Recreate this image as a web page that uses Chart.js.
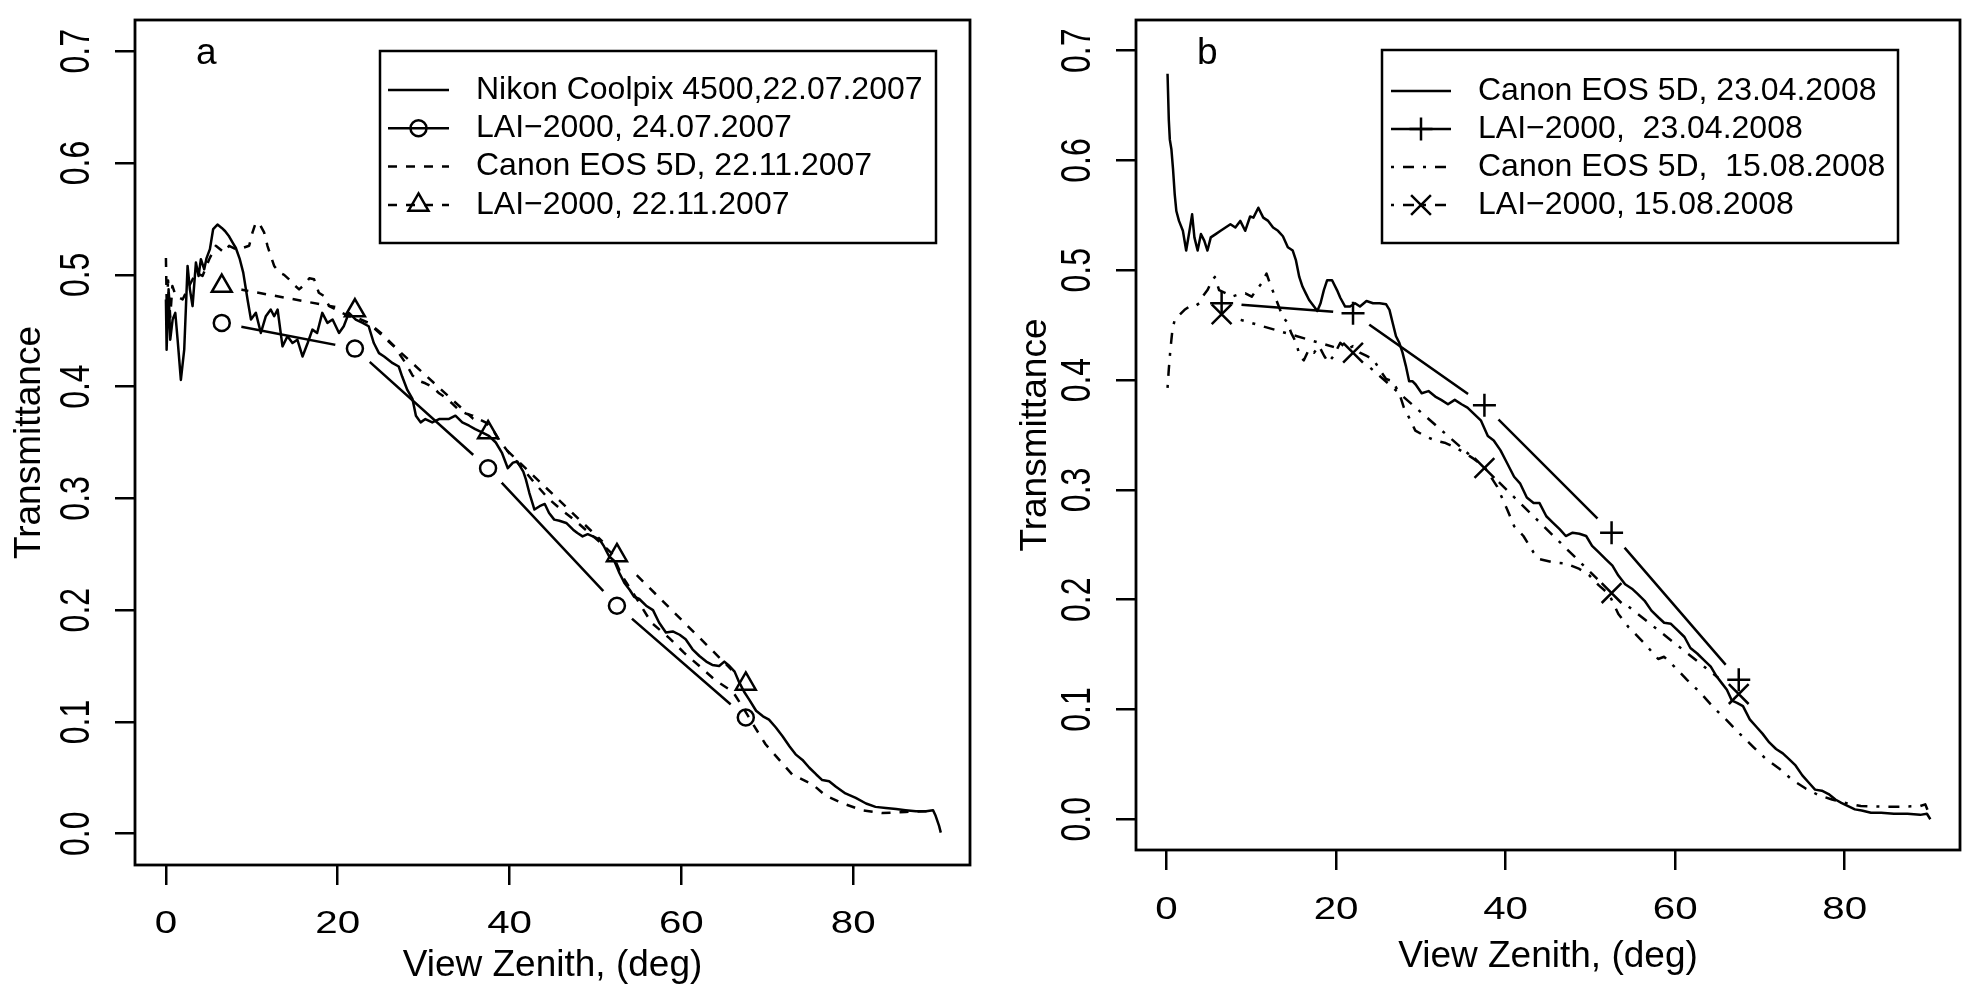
<!DOCTYPE html>
<html>
<head>
<meta charset="utf-8">
<title>Transmittance vs view zenith</title>
<script src="https://cdn.jsdelivr.net/npm/chart.js@4.4.0/dist/chart.umd.min.js"></script>
<style>
  html, body { margin: 0; padding: 0; background: #fff; }
  #wrap { position: relative; width: 1980px; height: 991px; }
  canvas { position: absolute; top: 0; }
  #chartA { left: 0; }
  #chartB { left: 990px; }
</style>
</head>
<body>
<div id="wrap">
  <canvas id="chartA" width="990" height="991"></canvas>
  <canvas id="chartB" width="990" height="991"></canvas>
</div>
<script>
// Axis ticks
const xTicks = [0, 20, 40, 60, 80];
const yTicks = [0, 0.1, 0.2, 0.3, 0.4, 0.5, 0.6, 0.7];

// LAI-2000 ring angles (both panels)
const laiAngles = [6.5, 22, 37.5, 52.5, 67.5];

// Panel a
const nikonAng = [0.0, 0.08, 0.31, 0.5, 0.78, 1.09, 1.36, 1.74, 2.13, 2.52, 2.79, 3.1, 3.49, 3.8, 4.07, 4.46, 4.73, 5.12, 5.5, 6.0,
  6.5, 6.9, 7.3, 7.75, 8.14, 8.6, 9.0, 9.5, 9.9, 10.47, 11.05, 11.63, 12.2, 12.6, 13.0, 13.57, 14.15, 14.73, 15.3, 15.9,
  16.5, 17.05, 17.6, 18.2, 18.8, 19.4, 20.15, 20.7, 21.3, 22.1, 22.9, 23.6, 24.2, 24.8, 25.4, 26.4, 27.1, 27.5, 28.1, 28.7,
  29.1, 29.65, 30.2, 31.0, 31.8, 32.9, 33.7, 34.5, 35.3, 36.0, 36.8, 37.6, 38.4, 39.1, 39.8, 40.4, 40.9, 41.6, 41.9, 42.3,
  42.9, 43.5, 44.1, 44.6, 45.2, 45.8, 46.6, 47.4, 47.9, 48.5, 49.1, 49.7, 50.5, 51.0, 51.6, 52.2, 52.8, 53.4, 54.0, 54.5,
  55.1, 55.9, 56.7, 57.4, 58.2, 59.0, 59.8, 60.5, 61.3, 62.1, 62.9, 63.6, 64.4, 65.0, 65.6, 66.2, 66.7, 67.3, 67.9, 68.7,
  69.5, 70.2, 71.0, 71.8, 72.6, 73.3, 74.1, 74.9, 75.7, 76.4, 77.2, 78.0, 79.1, 80.3, 81.5, 82.6, 83.8, 85.0, 86.1, 87.3,
  88.5, 89.3, 89.6, 90.0, 90.2];
const nikonT = [0.478, 0.433, 0.487, 0.442, 0.460, 0.466, 0.442, 0.406, 0.433, 0.508, 0.487, 0.472, 0.511, 0.499, 0.514, 0.505, 0.515, 0.523, 0.541, 0.545,
  0.542, 0.539, 0.535, 0.529, 0.524, 0.514, 0.502, 0.478, 0.460, 0.466, 0.448, 0.463, 0.469, 0.463, 0.469, 0.436, 0.445, 0.439, 0.442, 0.427,
  0.439, 0.451, 0.448, 0.466, 0.457, 0.460, 0.448, 0.454, 0.466, 0.460, 0.457, 0.454, 0.439, 0.430, 0.427, 0.421, 0.418, 0.409, 0.397, 0.389,
  0.374, 0.368, 0.371, 0.368, 0.371, 0.371, 0.374, 0.368, 0.365, 0.362, 0.359, 0.356, 0.350, 0.341, 0.327, 0.332, 0.333, 0.324, 0.317, 0.305,
  0.290, 0.293, 0.295, 0.287, 0.281, 0.280, 0.278, 0.272, 0.269, 0.266, 0.268, 0.266, 0.263, 0.257, 0.248, 0.244, 0.233, 0.224, 0.218, 0.212,
  0.210, 0.204, 0.200, 0.189, 0.180, 0.181, 0.178, 0.174, 0.165, 0.159, 0.154, 0.151, 0.150, 0.154, 0.150, 0.145, 0.136, 0.127, 0.120, 0.110,
  0.105, 0.102, 0.095, 0.087, 0.078, 0.071, 0.066, 0.059, 0.053, 0.048, 0.047, 0.042, 0.036, 0.032, 0.027, 0.024, 0.023, 0.022, 0.021, 0.020,
  0.020, 0.021, 0.016, 0.007, 0.001];

const canonNovAng = [0.0, 0.1, 0.25, 0.5, 0.75, 1.16, 1.94, 2.71, 3.49, 4.26, 5.04, 5.81, 6.78, 7.36, 8.14, 8.91, 9.69, 10.08, 10.47, 10.93,
  11.43, 11.82, 12.2, 12.6, 13.2, 13.76, 14.34, 14.92, 15.5, 16.1, 16.7, 17.25, 17.8, 18.4, 19.0, 19.8, 20.5, 21.3, 22.1, 23.6,
  25.2, 26.6, 27.9, 28.7, 29.5, 30.2, 31.0, 31.8, 32.6, 33.3, 34.1, 34.9, 35.7, 36.4, 37.2, 38.0, 38.8, 40.0, 41.5, 43.0,
  44.5, 46.0, 47.5, 49.0, 50.5, 52.0, 53.0, 54.65, 56.5, 58.6, 60.3, 62.1, 64.0, 66.0, 67.0, 68.5, 69.8, 71.4, 72.9, 75.3,
  76.8, 78.8, 81.1, 83.4, 86.1, 88.5, 89.5];
const canonNovT = [0.515, 0.470, 0.495, 0.462, 0.490, 0.481, 0.478, 0.490, 0.502, 0.499, 0.514, 0.526, 0.520, 0.526, 0.523, 0.524, 0.526, 0.538, 0.547, 0.545,
  0.538, 0.526, 0.517, 0.508, 0.502, 0.500, 0.496, 0.491, 0.487, 0.491, 0.497, 0.496, 0.484, 0.481, 0.472, 0.469, 0.466, 0.463, 0.462, 0.457,
  0.447, 0.436, 0.421, 0.410, 0.405, 0.403, 0.400, 0.394, 0.390, 0.385, 0.379, 0.376, 0.374, 0.371, 0.368, 0.362, 0.352, 0.340, 0.327, 0.313,
  0.300, 0.290, 0.281, 0.271, 0.261, 0.250, 0.232, 0.212, 0.189, 0.175, 0.162, 0.150, 0.137, 0.127, 0.115, 0.096, 0.080, 0.066, 0.053, 0.044,
  0.034, 0.027, 0.021, 0.0185, 0.0195, 0.020, 0.020];

const laiJulT = [0.457, 0.434, 0.327, 0.204, 0.104];
const laiNovT = [0.490, 0.468, 0.359, 0.249, 0.134];

// Panel b
const canonAprAng = [0.12, 0.27, 0.39, 0.58, 0.77, 0.97, 1.16, 1.47, 1.93, 2.32, 2.71, 3.02, 3.29, 3.67, 4.06, 4.45, 4.83, 5.22, 5.8, 6.38,
  6.96, 7.54, 8.12, 8.7, 9.28, 9.86, 10.25, 10.83, 11.41, 11.99, 12.57, 13.15, 13.73, 14.31, 14.89, 15.27, 15.66, 16.05, 16.43, 16.82,
  17.4, 17.79, 18.17, 18.56, 18.95, 19.53, 20.11, 20.5, 21.07, 21.65, 22.24, 22.82, 23.59, 24.36, 25.14, 25.91, 26.3, 26.68, 27.07, 27.46,
  27.84, 28.23, 28.62, 29.0, 29.39, 30.1, 30.9, 31.7, 32.4, 33.2, 34.0, 34.8, 35.5, 36.3, 37.1, 37.9, 38.6, 39.4, 40.2, 41.0,
  41.7, 42.5, 43.3, 44.0, 44.8, 45.6, 46.4, 47.1, 47.9, 48.7, 49.5, 50.2, 51.0, 51.8, 52.6, 53.3, 54.1, 54.9, 55.6, 56.4,
  57.2, 58.0, 58.7, 59.5, 60.3, 61.1, 61.8, 62.6, 63.4, 64.2, 64.9, 65.5, 66.1, 66.7, 67.3, 68.0, 68.8, 69.6, 70.3, 71.1,
  71.9, 72.7, 73.4, 74.2, 75.0, 75.8, 76.5, 77.3, 78.1, 78.9, 79.6, 80.4, 81.2, 82.0, 83.1, 84.3, 85.8, 87.4, 88.9, 89.7, 90.1];
const canonAprT = [0.679, 0.637, 0.619, 0.610, 0.592, 0.569, 0.554, 0.545, 0.536, 0.518, 0.536, 0.551, 0.530, 0.518, 0.533, 0.527, 0.518, 0.530, 0.533, 0.536,
  0.539, 0.542, 0.539, 0.545, 0.536, 0.549, 0.548, 0.557, 0.548, 0.545, 0.539, 0.536, 0.531, 0.521, 0.518, 0.509, 0.494, 0.485, 0.479, 0.473,
  0.467, 0.463, 0.470, 0.482, 0.491, 0.491, 0.482, 0.475, 0.467, 0.467, 0.470, 0.467, 0.472, 0.470, 0.470, 0.469, 0.464, 0.452, 0.440, 0.434,
  0.425, 0.413, 0.399, 0.399, 0.396, 0.388, 0.390, 0.385, 0.382, 0.378, 0.382, 0.378, 0.375, 0.369, 0.363, 0.349, 0.345, 0.336, 0.324, 0.312,
  0.306, 0.293, 0.288, 0.288, 0.276, 0.270, 0.264, 0.258, 0.261, 0.260, 0.258, 0.249, 0.243, 0.237, 0.231, 0.222, 0.214, 0.210, 0.205, 0.199,
  0.190, 0.184, 0.179, 0.178, 0.172, 0.166, 0.156, 0.151, 0.145, 0.139, 0.130, 0.124, 0.118, 0.108, 0.106, 0.103, 0.091, 0.084, 0.078, 0.070,
  0.064, 0.060, 0.055, 0.049, 0.040, 0.033, 0.027, 0.026, 0.023, 0.018, 0.015, 0.012, 0.009, 0.008, 0.006, 0.006, 0.005, 0.005, 0.004, 0.005, 0.000];

const canonAugAng = [0.12, 0.27, 0.46, 0.7, 0.97, 1.35, 1.74, 2.13, 2.7, 3.3, 3.87, 4.25, 4.83, 5.4, 5.7, 6.2, 7.0, 7.7, 8.5, 9.3,
  10.05, 10.6, 11.2, 11.8, 12.2, 12.8, 13.1, 13.7, 14.3, 14.7, 15.3, 15.7, 16.2, 16.8, 17.4, 18.0, 18.6, 19.1, 19.7, 20.5,
  21.3, 22.0, 22.8, 23.6, 24.4, 25.1, 25.9, 26.7, 27.5, 28.0, 28.6, 29.35, 30.5, 31.7, 32.8, 34.0, 35.1, 36.3, 37.5, 39.0,
  40.2, 41.0, 42.1, 43.3, 44.0, 45.6, 47.1, 48.7, 49.9, 51.0, 52.2, 53.3, 54.5, 54.9, 56.4, 58.0, 58.7, 59.9, 61.4, 63.0,
  64.5, 66.1, 67.6, 69.2, 70.7, 72.3, 73.8, 75.4, 76.9, 78.5, 80.0, 81.9, 84.3, 86.6, 88.9, 89.5, 89.9];
const canonAugT = [0.393, 0.410, 0.428, 0.446, 0.455, 0.458, 0.461, 0.464, 0.467, 0.467, 0.470, 0.476, 0.482, 0.491, 0.494, 0.482, 0.479, 0.476, 0.478, 0.479,
  0.476, 0.482, 0.488, 0.497, 0.488, 0.476, 0.470, 0.458, 0.452, 0.443, 0.434, 0.422, 0.418, 0.428, 0.425, 0.431, 0.422, 0.416, 0.422, 0.434,
  0.428, 0.431, 0.425, 0.422, 0.419, 0.410, 0.401, 0.399, 0.387, 0.375, 0.366, 0.354, 0.349, 0.345, 0.343, 0.339, 0.334, 0.328, 0.321, 0.303,
  0.282, 0.267, 0.258, 0.243, 0.237, 0.234, 0.233, 0.228, 0.222, 0.213, 0.205, 0.187, 0.175, 0.172, 0.160, 0.146, 0.148, 0.139, 0.127, 0.115,
  0.102, 0.090, 0.078, 0.066, 0.055, 0.046, 0.036, 0.028, 0.022, 0.018, 0.015, 0.012, 0.0115, 0.0115, 0.012, 0.0136, 0.006];

const laiAprT = [0.470, 0.461, 0.377, 0.261, 0.127];
const laiAugT = [0.460, 0.425, 0.320, 0.206, 0.114];

// Legend texts
const labelsA = ['Nikon Coolpix 4500,22.07.2007', 'LAI\u22122000, 24.07.2007', 'Canon EOS 5D, 22.11.2007', 'LAI\u22122000, 22.11.2007'];
const labelsB = ['Canon EOS 5D, 23.04.2008', 'LAI\u22122000,  23.04.2008', 'Canon EOS 5D,  15.08.2008', 'LAI\u22122000, 15.08.2008'];

const FONT = "'Liberation Sans', Arial, Helvetica, sans-serif";
const DASH = [9, 9];
const DASHDOT = [3, 9, 11, 9];
const LW = 2.5;

function pts(xs, ys) {
  return xs.map((x, i) => ({ x: x, y: ys[i] }));
}

// plain curve
function curve(label, xs, ys, dash) {
  return {
    label: label, data: pts(xs, ys), showLine: true, pointRadius: 0, pointHoverRadius: 0,
    borderColor: '#000', borderWidth: LW, borderDash: dash, borderJoinStyle: 'round',
    tension: 0, fill: false, order: 2
  };
}

// LAI series as R type "b": line, white gap round each point, then the symbol
function laiSeries(label, ys, dash, style, radius) {
  const d = pts(laiAngles, ys);
  return [
    { label: label, data: d, showLine: true, pointRadius: 0, pointHoverRadius: 0, borderColor: '#000',
      borderWidth: LW, borderDash: dash, tension: 0, fill: false, order: 4 },
    { label: '', data: d, showLine: false, pointRadius: 20, pointHoverRadius: 20, pointStyle: 'circle',
      pointBackgroundColor: '#fff', pointBorderColor: '#fff', pointBorderWidth: 0, order: 3 },
    { label: '', data: d, showLine: false, pointRadius: radius, pointHoverRadius: radius, pointStyle: style,
      pointBackgroundColor: 'rgba(0,0,0,0)', pointBorderColor: '#000', pointBorderWidth: LW, order: 1 }
  ];
}

const boxPlugin = {
  id: 'rBox',
  afterDraw(chart) {
    const a = chart.chartArea, ctx = chart.ctx;
    ctx.save();
    ctx.lineWidth = 2.8;
    ctx.strokeStyle = '#000';
    ctx.strokeRect(a.left, a.top, a.right - a.left, a.bottom - a.top);
    ctx.restore();
  }
};

// tick labels drawn R style: y labels turned parallel to the axis, both a bit wide
const tickLabelPlugin = {
  id: 'tickLabels',
  afterDraw(chart, args, o) {
    const ctx = chart.ctx, a = chart.chartArea;
    const sx = chart.scales.x, sy = chart.scales.y;
    ctx.save();
    ctx.fillStyle = '#000';
    ctx.textAlign = 'center';
    ctx.textBaseline = 'middle';
    ctx.font = o.size + 'px ' + FONT;
    sx.ticks.forEach(t => {
      ctx.save();
      ctx.translate(sx.getPixelForValue(t.value), a.bottom + o.xOffset);
      ctx.scale(o.stretch, 1);
      ctx.fillText(String(t.value), 0, 0);
      ctx.restore();
    });
    ctx.font = o.ySize + 'px ' + FONT;
    sy.ticks.forEach(t => {
      ctx.save();
      ctx.translate(a.left - o.yOffset, sy.getPixelForValue(t.value));
      ctx.scale(o.stretch, 1);
      ctx.rotate(-Math.PI / 2);
      ctx.fillText(t.value.toFixed(1), 0, 0);
      ctx.restore();
    });
    ctx.restore();
  }
};

// boxed legend with line samples
const legendPlugin = {
  id: 'rLegend',
  afterDraw(chart, args, o) {
    const ctx = chart.ctx, a = chart.chartArea;
    const left = a.left + o.dx, top = a.top + o.dy;
    const ds = chart.data.datasets;
    ctx.save();
    ctx.lineWidth = LW;
    ctx.strokeStyle = '#000';
    ctx.strokeRect(left, top, o.w, o.h);
    o.items.forEach((it, i) => {
      const y = top + o.row0 + i * o.rowGap;
      const line = ds[it.line];
      ctx.setLineDash(line.borderDash || []);
      ctx.beginPath();
      ctx.moveTo(left + o.s1, y);
      ctx.lineTo(left + o.s2, y);
      ctx.stroke();
      ctx.setLineDash([]);
      if (it.marker !== undefined) {
        const m = ds[it.marker];
        ctx.fillStyle = 'rgba(0,0,0,0)';
        Chart.helpers.drawPoint(ctx, { pointStyle: m.pointStyle, radius: m.pointRadius, borderWidth: LW, rotation: 0 },
          left + (o.s1 + o.s2) / 2, y);
      }
      ctx.fillStyle = '#000';
      ctx.font = o.size + 'px ' + FONT;
      ctx.textAlign = 'left';
      ctx.textBaseline = 'middle';
      ctx.fillText(line.label, left + o.tx, y);
    });
    ctx.restore();
  }
};

const letterPlugin = {
  id: 'panelLetter',
  afterDraw(chart, args, o) {
    const ctx = chart.ctx, a = chart.chartArea;
    ctx.save();
    ctx.font = o.size + 'px ' + FONT;
    ctx.fillStyle = '#000';
    ctx.textBaseline = 'alphabetic';
    ctx.fillText(o.text, a.left + o.dx, a.top + o.dy);
    ctx.restore();
  }
};

function makePanel(id, datasets, p) {
  return new Chart(document.getElementById(id), {
    type: 'scatter',
    data: { datasets: datasets },
    plugins: [boxPlugin, tickLabelPlugin, legendPlugin, letterPlugin],
    options: {
      responsive: false,
      animation: false,
      devicePixelRatio: 1,
      layout: { padding: p.padding },
      plugins: {
        legend: { display: false },
        tooltip: { enabled: false },
        tickLabels: { size: 31, ySize: 32, stretch: 1.3, xOffset: p.xLabelOffset, yOffset: 57 },
        rLegend: p.legend,
        panelLetter: { text: p.letter, size: 37, dx: 61, dy: 44 }
      },
      scales: {
        x: {
          type: 'linear', min: -3.6, max: 93.6,
          afterBuildTicks: s => { s.ticks = xTicks.map(v => ({ value: v })); },
          afterFit: s => { s.height = p.xHeight; },
          grid: { drawOnChartArea: false, drawTicks: true, tickLength: 20, color: '#000', lineWidth: LW },
          border: { display: false },
          ticks: { display: false },
          title: { display: true, text: 'View Zenith, (deg)', color: '#000', font: { family: FONT, size: 37 },
            padding: { top: 0, bottom: p.xTitlePad } }
        },
        y: {
          type: 'linear', min: -0.028, max: 0.728,
          afterBuildTicks: s => { s.ticks = yTicks.map(v => ({ value: v })); },
          afterFit: s => { s.width = p.yWidth; },
          grid: { drawOnChartArea: false, drawTicks: true, tickLength: 20, color: '#000', lineWidth: LW },
          border: { display: false },
          ticks: { display: false },
          title: { display: true, text: 'Transmittance', color: '#000', font: { family: FONT, size: 37 },
            padding: { top: p.yTitlePad, bottom: 0 } }
        }
      }
    }
  });
}

// Panel a
const dsA = [
  curve(labelsA[0], nikonAng, nikonT, []),
  ...laiSeries(labelsA[1], laiJulT, [], 'circle', 8),
  curve(labelsA[2], canonNovAng, canonNovT, DASH),
  ...laiSeries(labelsA[3], laiNovT, DASH, 'triangle', 11.5)
];
makePanel('chartA', dsA, {
  padding: { left: 0, right: 19, top: 20, bottom: 0 },
  xHeight: 126, yWidth: 135, xTitlePad: 3, yTitlePad: 8, letter: 'a', xLabelOffset: 59,
  legend: { dx: 245, dy: 31, w: 556, h: 192, s1: 8, s2: 69, tx: 96, row0: 39, rowGap: 38.3, size: 32,
    items: [{ line: 0 }, { line: 1, marker: 3 }, { line: 4 }, { line: 5, marker: 7 }] }
});

// Panel b
const dsB = [
  curve(labelsB[0], canonAprAng, canonAprT, []),
  ...laiSeries(labelsB[1], laiAprT, [], 'cross', 11.5),
  curve(labelsB[2], canonAugAng, canonAugT, DASHDOT),
  ...laiSeries(labelsB[3], laiAugT, DASHDOT, 'crossRot', 14)
];
makePanel('chartB', dsB, {
  padding: { left: 0, right: 6, top: 5, bottom: 0 },
  xHeight: 141, yWidth: 146, xTitlePad: 12, yTitlePad: 24, letter: 'b', xLabelOffset: 60,
  legend: { dx: 246, dy: 30, w: 516, h: 193, s1: 9, s2: 69, tx: 96, row0: 41, rowGap: 38, size: 32,
    items: [{ line: 0 }, { line: 1, marker: 3 }, { line: 4 }, { line: 5, marker: 7 }] }
});
</script>
</body>
</html>
